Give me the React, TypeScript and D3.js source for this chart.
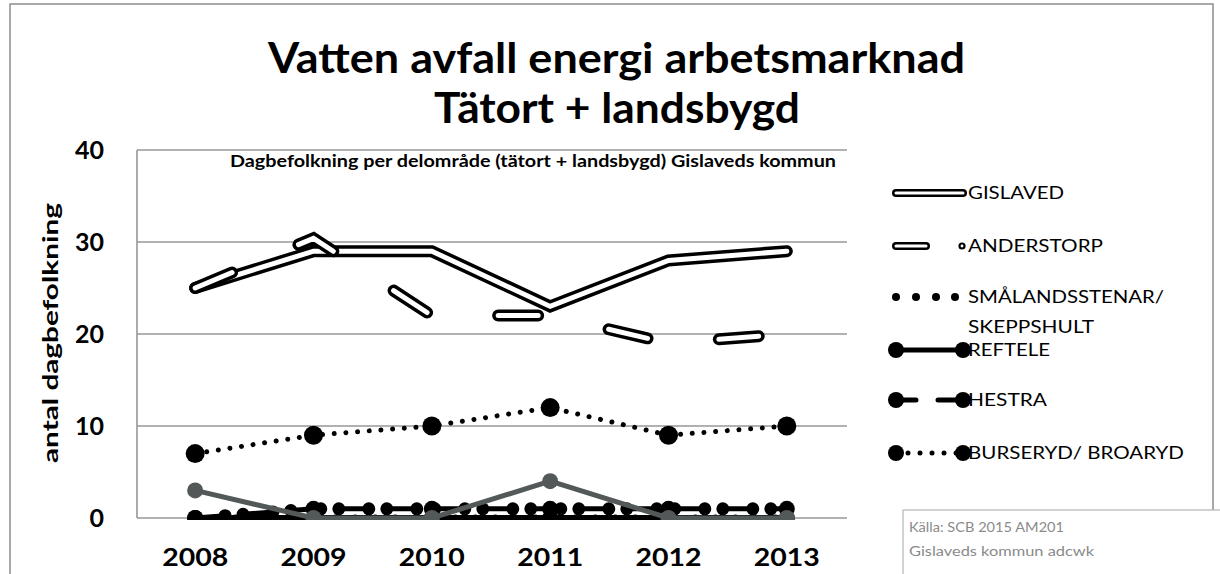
import React from "react";
import * as d3 from "d3";

const years = ["2008", "2009", "2010", "2011", "2012", "2013"];
const yTicks = [0, 10, 20, 30, 40];

const gislaved = [25, 29, 29, 23, 28, 29];
const anderstorp = [25, 30.4, 22, 22, 19, 20];
const smalandsstenar = [0, 0, 0, 0, 0, 0];
const reftele = [0, 0, 0, 0, 0, 0];
const hestra = [0, 1, 1, 1, 1, 1];
const burseryd = [7, 9, 10, 12, 9, 10];
const grey = [3, 0, 0, 4, 0, 0];

const legendNames = ["GISLAVED", "ANDERSTORP", "SMÅLANDSSTENAR/", "REFTELE", "HESTRA", "BURSERYD/ BROARYD"];

const title1 = "Vatten avfall energi arbetsmarknad";
const title2 = "Tätort + landsbygd";
const subtitle = "Dagbefolkning per delområde (tätort + landsbygd) Gislaveds kommun";
const yTitle = "antal dagbefolkning";
const source1 = "Källa: SCB 2015 AM201";
const source2 = "Gislaveds kommun adcwk";

export default function App() {
  const W = 1220, H = 574;
  const x = d3.scaleBand<string>().domain(years).range([136, 846]).padding(0);
  const y = d3.scaleLinear().domain([0, 40]).range([518, 150]);
  const cx = (i: number) => (x(years[i]) as number) + x.bandwidth() / 2;
  const line = d3.line<number>().x((_, i) => cx(i)).y((d) => y(d));

  const font = "Lato, 'Open Sans', sans-serif";
  const black = "#000";
  const greyC = "#535858";

  const hestraDots = (
    <path d={line(hestra) || ""} fill="none" stroke={black} strokeWidth={13} strokeLinecap="round" strokeDasharray="0 30 0 18" />
  );

  // legend
  const lx1 = 896, lx2 = 963, tx = 968;
  const ly = [193, 246, 297, 350, 400, 453];
  const lw = [96, 135, 196, 82, 79, 216];

  return (
    <svg width={W} height={H} style={{ display: "block", position: "absolute", left: 0, top: 0 }}>
      <rect x={0} y={0} width={W} height={H} fill="#fff" />
      <rect x={10} y={4} width={1203} height={620} fill="none" stroke="#8c8c8c" strokeWidth={1.5} />

      {/* titles */}
      <text x={268} y={73} fontFamily={font} fontWeight={700} fontSize={42} textLength={697} lengthAdjust="spacingAndGlyphs">{title1}</text>
      <text x={434} y={123} fontFamily={font} fontWeight={700} fontSize={42} textLength={366} lengthAdjust="spacingAndGlyphs">{title2}</text>
      <text x={230} y={167} fontFamily={font} fontWeight={700} fontSize={17} textLength={606} lengthAdjust="spacingAndGlyphs">{subtitle}</text>

      {/* gridlines */}
      {yTicks.map((t) => (
        <line key={t} x1={137} x2={847} y1={y(t)} y2={y(t)} stroke="#979797" strokeWidth={1.6} />
      ))}
      <line x1={137} x2={137} y1={y(40)} y2={y(0)} stroke="#979797" strokeWidth={1.6} />

      {/* y tick labels */}
      {yTicks.map((t) => (
        <text key={t} x={104} y={y(t) + 9} textAnchor="end" fontFamily={font} fontWeight={700} fontSize={25}>{t}</text>
      ))}
      <text transform={`translate(58,333) rotate(-90)`} textAnchor="middle" fontFamily={font} fontWeight={700} fontSize={21} textLength={260} lengthAdjust="spacingAndGlyphs">{yTitle}</text>

      {/* x labels */}
      {years.map((yr, i) => (
        <text key={yr} x={cx(i)} y={566} textAnchor="middle" fontFamily={font} fontWeight={700} fontSize={25} textLength={66} lengthAdjust="spacingAndGlyphs">{yr}</text>
      ))}

      <defs>
        <clipPath id="plotClip">
          <rect x={110} y={130} width={760} height={390} />
        </clipPath>
      </defs>

      <g clipPath="url(#plotClip)">
        {/* GISLAVED double line */}
        <path d={line(gislaved) || ""} fill="none" stroke={black} strokeWidth={12} strokeLinejoin="miter" strokeLinecap="round" />
        <path d={line(gislaved) || ""} fill="none" stroke="#fff" strokeWidth={5} strokeLinejoin="miter" strokeLinecap="round" />
        {/* ANDERSTORP double dashed */}
        <path d={line(anderstorp) || ""} fill="none" stroke={black} strokeWidth={12} strokeLinecap="round" strokeLinejoin="miter" strokeDasharray="40 72" />
        <path d={line(anderstorp) || ""} fill="none" stroke="#fff" strokeWidth={5} strokeLinecap="round" strokeLinejoin="miter" strokeDasharray="40 72" />
        {/* SMÅLANDSSTENAR dotted */}
        <path d={line(smalandsstenar) || ""} fill="none" stroke={black} strokeWidth={7} strokeLinecap="round" strokeDasharray="0.01 20" />
        {/* REFTELE solid with markers */}
        <path d={line(reftele) || ""} fill="none" stroke={black} strokeWidth={6} />
        {reftele.map((v, i) => <circle key={"r" + i} cx={cx(i)} cy={y(v)} r={8} fill={black} />)}
        {/* HESTRA dashed with markers */}
        <path d={line(hestra) || ""} fill="none" stroke={black} strokeWidth={5} strokeDasharray="30 18" />
        {hestraDots}
        {hestra.map((v, i) => <circle key={"h" + i} cx={cx(i)} cy={y(v)} r={8} fill={black} />)}
        {/* BURSERYD dotted with markers */}
        <path d={line(burseryd) || ""} fill="none" stroke={black} strokeWidth={5} strokeLinecap="round" strokeDasharray="0.01 11.7" />
        {burseryd.map((v, i) => <circle key={"b" + i} cx={cx(i)} cy={y(v)} r={9.5} fill={black} />)}
        {/* grey series */}
        <path d={line(grey) || ""} fill="none" stroke={greyC} strokeWidth={5} />
        {grey.map((v, i) => <circle key={"g" + i} cx={cx(i)} cy={y(v)} r={8} fill={greyC} />)}
      </g>

      {/* legend */}
      <g>
        {/* GISLAVED */}
        <line x1={lx1} x2={lx2} y1={ly[0]} y2={ly[0]} stroke={black} strokeWidth={8} strokeLinecap="round" />
        <line x1={lx1} x2={lx2} y1={ly[0]} y2={ly[0]} stroke="#fff" strokeWidth={3} strokeLinecap="round" />
        {/* ANDERSTORP */}
        <line x1={lx1} x2={926} y1={ly[1]} y2={ly[1]} stroke={black} strokeWidth={8} strokeLinecap="round" />
        <line x1={lx1} x2={926} y1={ly[1]} y2={ly[1]} stroke="#fff" strokeWidth={3} strokeLinecap="round" />
        <circle cx={962} cy={ly[1]} r={3.6} fill={black} />
        <circle cx={962} cy={ly[1]} r={1.4} fill="#fff" />
        {/* SMÅLANDSSTENAR */}
        {[896, 916, 936, 955].map((px) => <circle key={px} cx={px} cy={ly[2]} r={4} fill={black} />)}
        {/* REFTELE */}
        <line x1={lx1} x2={lx2} y1={ly[3]} y2={ly[3]} stroke={black} strokeWidth={5} />
        <circle cx={lx1} cy={ly[3]} r={8} fill={black} />
        <circle cx={lx2} cy={ly[3]} r={8} fill={black} />
        {/* HESTRA */}
        <line x1={lx1} x2={916} y1={ly[4]} y2={ly[4]} stroke={black} strokeWidth={5} strokeLinecap="round" />
        <line x1={938} x2={lx2} y1={ly[4]} y2={ly[4]} stroke={black} strokeWidth={5} strokeLinecap="round" />
        <circle cx={lx1} cy={ly[4]} r={8} fill={black} />
        <circle cx={lx2} cy={ly[4]} r={8} fill={black} />
        {/* BURSERYD */}
        <line x1={lx1} x2={lx2} y1={ly[5]} y2={ly[5]} stroke={black} strokeWidth={5} strokeLinecap="round" strokeDasharray="0.01 12" />
        <circle cx={lx1} cy={ly[5]} r={8} fill={black} />
        <circle cx={lx2} cy={ly[5]} r={8} fill={black} />

        {legendNames.map((n, i) => (
          <text key={n} x={tx} y={ly[i] + 6} fontFamily={font} fontSize={18} textLength={lw[i]} lengthAdjust="spacingAndGlyphs">{n}</text>
        ))}
        <text x={tx} y={ly[2] + 36} fontFamily={font} fontSize={18} textLength={126} lengthAdjust="spacingAndGlyphs">SKEPPSHULT</text>
      </g>

      {/* source box */}
      <rect x={903} y={510} width={330} height={80} fill="#fff" stroke="#b5b5b5" strokeWidth={1.2} />
      <text x={909} y={532} fontFamily={font} fontSize={14} fill="#8a8a8a" textLength={155} lengthAdjust="spacingAndGlyphs">{source1}</text>
      <text x={909} y={556} fontFamily={font} fontSize={14} fill="#8a8a8a" textLength={185} lengthAdjust="spacingAndGlyphs">{source2}</text>
    </svg>
  );
}
